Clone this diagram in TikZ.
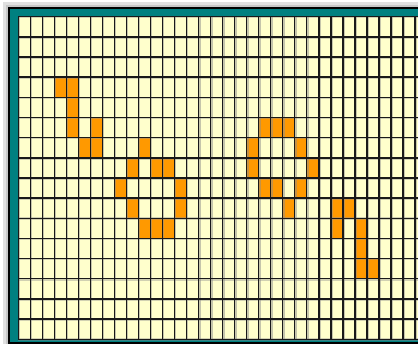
\documentclass[tikz,border=0pt]{standalone}
\definecolor{cellbg}{HTML}{FFFFCC}
\definecolor{cellon}{HTML}{FF9900}
\definecolor{framecol}{HTML}{008080}
\tikzset{
  halo/.style={draw=black!45, line width=2.6pt},
  gridline/.style={draw=black!90, line width=1.4pt},
  oncell/.style={fill=cellon}
}
\begin{document}
\begin{tikzpicture}[x=1pt,y=-1pt]
\useasboundingbox (0,0) rectangle (418,344);
\clip (0,0) rectangle (418,344);
\fill[white] (0,0) rectangle (418,344);
\fill[black!12] (3,2) rectangle (430,350);
\fill[black!22] (6,5) rectangle (430,350);
\fill[framecol] (9,8) rectangle (430,343);
\draw[black, line width=2pt] (9,8) rectangle (430,343);
\fill[cellbg] (18.3,16.7) rectangle (425,339.3);
\foreach \c/\r in {3/3,4/3,4/4,4/5,6/5,5/6,6/6,10/6,9/7,11/7,12/7,8/8,13/8,9/9,13/9,10/10,11/10,12/10,
  20/5,21/5,22/5,19/6,23/6,19/7,24/7,20/8,21/8,23/8,22/9,26/9,27/9,26/10,28/10,28/11,28/12,29/12}
  \fill[oncell] ({18.3+\c*12.02},{16.7+\r*20.16}) rectangle +(12.02,20.16);
\foreach \k in {0,...,33} {
  \draw[halo,draw opacity=0.5] ({18.3+\k*12.02+0.6},16.7) -- ++(0,322.6);
}
\foreach \r in {0,...,16} {
  \draw[halo,draw opacity=0.4] (18.3,{16.7+\r*20.16+0.5}) -- (425,{16.7+\r*20.16+0.5});
}
\foreach \k in {0,...,33} {
  \draw[gridline] ({18.3+\k*12.02},16.7) -- ++(0,322.6);
}
\foreach \r in {0,...,16} {
  \draw[gridline] (18.3,{16.7+\r*20.16}) -- (425,{16.7+\r*20.16});
}
\end{tikzpicture}
\end{document}
